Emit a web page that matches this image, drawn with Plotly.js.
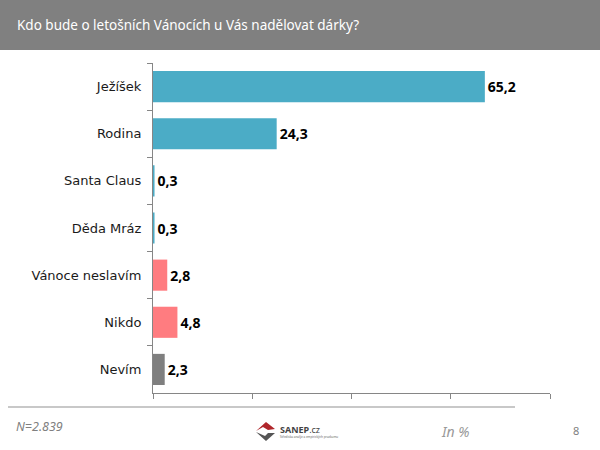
<!DOCTYPE html>
<html><head><meta charset="utf-8">
<script src="https://cdn.plot.ly/plotly-3.0.1.min.js"></script>
<style>html,body{margin:0;padding:0;background:#fff}#c{width:600px;height:450px}</style>
</head><body><div id="c"></div>
<script>
var categories = ['Ježíšek','Rodina','Santa Claus','Děda Mráz','Vánoce neslavím','Nikdo','Nevím'];
var values = [65.2, 24.3, 0.3, 0.3, 2.8, 4.8, 2.3];
var groups = ['who','who','who','who','none','none','unknown'];
var groupColors = {who:'#4BACC6', none:'#FF7C80', unknown:'#7F7F7F'};

var L=153, T=63, W=397, H=330;
function px(x){return (x-L)/W;}
function py(y){return 1-(y-T)/H;}

var trace = {
  type:'bar', orientation:'h', y:categories, x:values,
  marker:{color:groups.map(function(g){return groupColors[g];})},
  texttemplate:'<b>%{x:.1f}</b>', textposition:'outside', cliponaxis:false,
  textfont:{family:'Noto Sans, sans-serif', size:14, color:'#000'},
  hoverinfo:'none'
};

var layout = {
  width:600, height:450, margin:{l:L, r:600-L-W, t:T, b:450-T-H},
  paper_bgcolor:'#fff', plot_bgcolor:'#fff', showlegend:false,
  separators:', ', bargap:0.34,
  font:{family:'Noto Sans, sans-serif'},
  xaxis:{range:[0,78], tick0:0, dtick:19.5, showticklabels:false, showgrid:false, zeroline:false,
         showline:true, linecolor:'#868686', linewidth:1, ticks:'outside', ticklen:5, tickcolor:'#868686'},
  yaxis:{autorange:'reversed', showgrid:false, zeroline:false, showline:true, linecolor:'#868686', linewidth:1,
         ticks:'outside', ticklen:5, tickcolor:'#868686', tickson:'boundaries', ticklabelstandoff:8,
         tickfont:{family:'DejaVu Sans, sans-serif', size:13, color:'#1a1a1a'}},
  shapes:[
    {type:'rect', xref:'paper', yref:'paper', x0:px(0), x1:px(600), y0:py(0), y1:py(50), fillcolor:'#808080', line:{width:0}, layer:'below'},
    {type:'line', xref:'paper', yref:'paper', x0:px(8), x1:px(515), y0:py(407), y1:py(407), line:{color:'#c8c8c8', width:2}},
    {type:'path', xref:'paper', yref:'paper', path:
      'M '+px(256)+' '+py(431)+' L '+px(266)+' '+py(422)+' L '+px(275)+' '+py(429)+' L '+px(268)+' '+py(430)+' L '+px(263)+' '+py(427)+' Z',
      fillcolor:'#b0262b', line:{width:0}},
    {type:'path', xref:'paper', yref:'paper', path:
      'M '+px(256)+' '+py(432)+' L '+px(266)+' '+py(441)+' L '+px(275)+' '+py(433)+' L '+px(268)+' '+py(433)+' L '+px(265)+' '+py(436)+' Z',
      fillcolor:'#555555', line:{width:0}}
  ],
  annotations:[
    {xref:'paper', yref:'paper', x:px(15), y:py(25), xanchor:'left', yanchor:'middle', showarrow:false,
     text:'Kdo bude o letošních Vánocích u Vás nadělovat dárky?', font:{family:'Noto Sans, sans-serif', size:13.5, color:'#fff'}},
    {xref:'paper', yref:'paper', x:px(14), y:py(426), xanchor:'left', yanchor:'middle', showarrow:false,
     text:'<i>N=2.839</i>', font:{family:'Noto Sans, sans-serif', size:12.5, color:'#808080'}},
    {xref:'paper', yref:'paper', x:px(439), y:py(431), xanchor:'left', yanchor:'middle', showarrow:false,
     text:'<i>In %</i>', font:{family:'Noto Sans, sans-serif', size:14, color:'#999'}},
    {xref:'paper', yref:'paper', x:px(576), y:py(430), xanchor:'center', yanchor:'middle', showarrow:false,
     text:'8', font:{family:'Noto Sans, sans-serif', size:11, color:'#808080'}},
    {xref:'paper', yref:'paper', x:px(278), y:py(429), xanchor:'left', yanchor:'middle', showarrow:false,
     text:'<b>SANEP</b>.cz', font:{family:'Noto Sans, sans-serif', size:9, color:'#444'}},
    {xref:'paper', yref:'paper', x:px(278), y:py(437), xanchor:'left', yanchor:'middle', showarrow:false,
     text:'Střediska analýz a empirických průzkumů', font:{family:'Noto Sans, sans-serif', size:3, color:'#666'}}
  ]
};
Plotly.newPlot('c', [trace], layout, {staticPlot:true, displayModeBar:false});
</script></body></html>
